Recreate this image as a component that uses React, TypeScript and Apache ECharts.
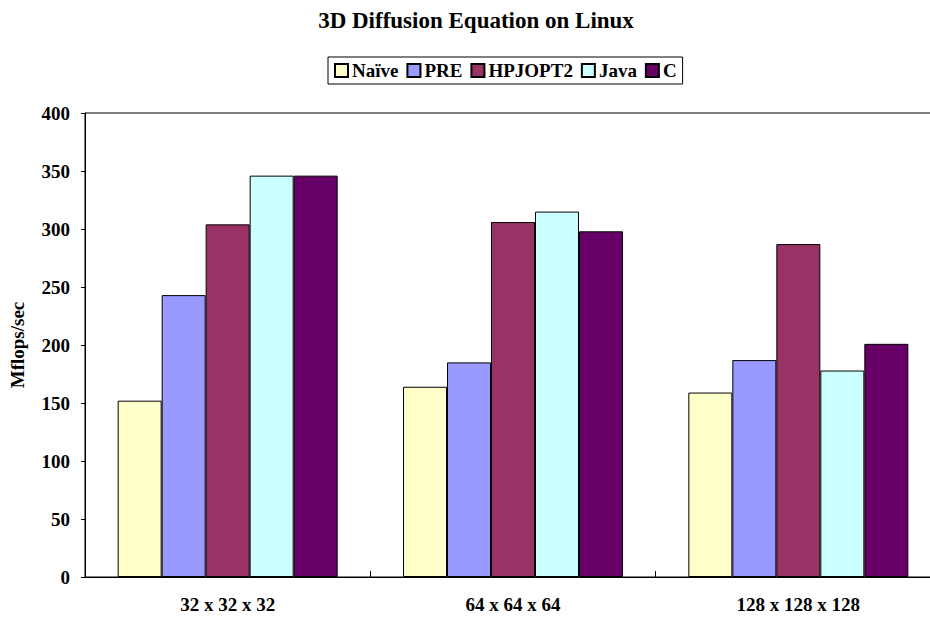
import React, { useEffect, useRef } from "react";
import * as echarts from "echarts";

const categories = ["32 x 32 x 32", "64 x 64 x 64", "128 x 128 x 128"];
const seriesNames = ["Naïve", "PRE", "HPJOPT2", "Java", "C"];
const naive = [152, 164, 159];
const pre = [243, 185, 187];
const hpjopt2 = [304, 306, 287];
const java = [346, 315, 178];
const cLang = [346, 298, 201];
const colors = ["#FFFFCC", "#9999FF", "#993366", "#CCFFFF", "#660066"];
const yTicks = { min: 0, max: 400, interval: 50 };

const FONT = "'Liberation Serif', 'Times New Roman', serif";

export default function App() {
  const ref = useRef<HTMLDivElement>(null);
  useEffect(() => {
    if (!ref.current) return;
    const chart = echarts.init(ref.current, undefined, { renderer: "svg" });
    const values = [naive, pre, hpjopt2, java, cLang];
    chart.setOption({
      animation: false,
      backgroundColor: "#ffffff",
      title: {
        text: "3D Diffusion Equation on Linux",
        left: 471,
        textAlign: "center",
        top: 4,
        textStyle: { fontFamily: FONT, fontWeight: "bold", fontSize: 23, color: "#000" },
      },
      legend: {
        left: 328,
        top: 57,
        padding: [4, 6],
        borderColor: "#000",
        borderWidth: 1,
        itemGap: 8,
        itemWidth: 13,
        itemHeight: 13,
        icon: "rect",
        textStyle: { fontFamily: FONT, fontWeight: "bold", fontSize: 19, color: "#000", padding: [0, 0, 0, -1] },
        data: seriesNames,
      },
      grid: {
        left: 85,
        top: 113,
        width: 856,
        height: 464,
        show: true,
        borderColor: "#000",
        borderWidth: 1,
        containLabel: false,
        outerBoundsMode: "none",
      },
      xAxis: {
        type: "category",
        data: categories,
        axisLine: { lineStyle: { color: "#000", width: 1 } },
        axisTick: { show: true, inside: true, length: 6, lineStyle: { color: "#000" } },
        axisLabel: { fontFamily: FONT, fontWeight: "bold", fontSize: 19, color: "#000", margin: 18 },
      },
      yAxis: {
        type: "value",
        min: yTicks.min,
        max: yTicks.max,
        interval: yTicks.interval,
        name: "Mflops/sec",
        nameLocation: "middle",
        nameGap: 58,
        nameTextStyle: { fontFamily: FONT, fontWeight: "bold", fontSize: 19, color: "#000" },
        splitLine: { show: false },
        axisLine: { show: true, lineStyle: { color: "#000", width: 1 } },
        axisTick: { show: true, inside: false, length: 4, lineStyle: { color: "#000" } },
        axisLabel: { fontFamily: FONT, fontWeight: "bold", fontSize: 19, color: "#000", margin: 15 },
      },
      series: seriesNames.map((name, i) => ({
        name,
        type: "bar",
        data: values[i],
        barWidth: 44,
        barGap: "0%",
        itemStyle: { color: colors[i], borderColor: "#000", borderWidth: 1 },
      })),
    });
    return () => chart.dispose();
  }, []);
  return (
    <div
      ref={ref}
      style={{ position: "fixed", left: 0, top: 0, width: 930, height: 619, background: "#fff" }}
    />
  );
}
